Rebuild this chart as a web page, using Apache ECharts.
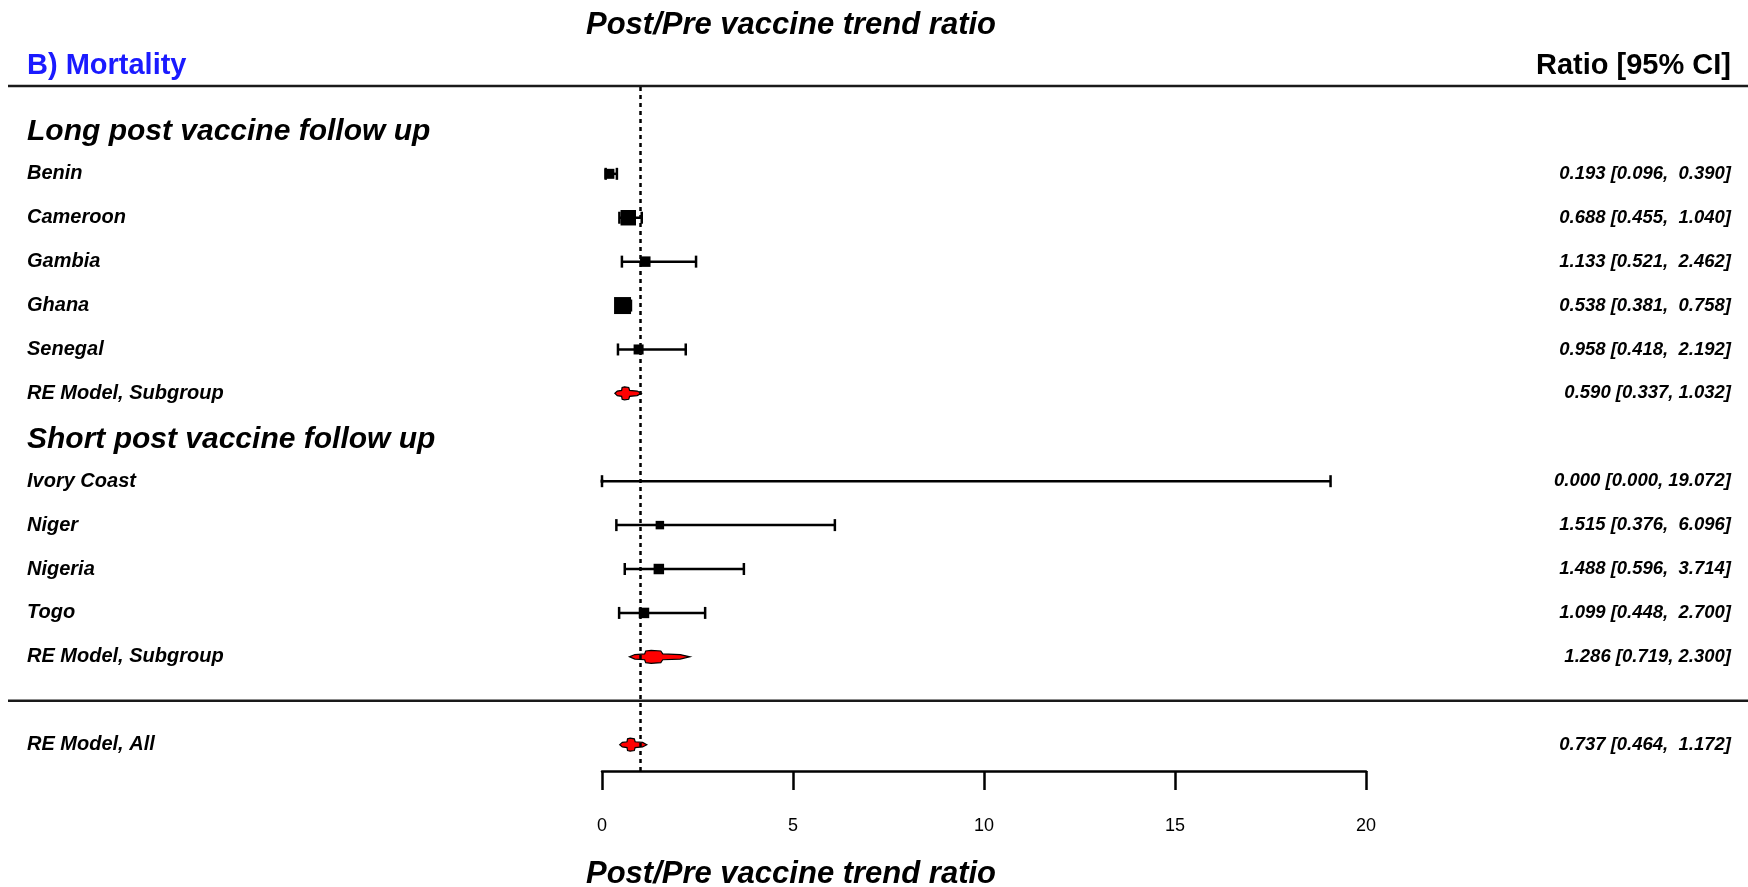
<!DOCTYPE html>
<html><head><meta charset="utf-8">
<script src="https://cdn.jsdelivr.net/npm/echarts@6/dist/echarts.min.js"></script>
<style>html,body{margin:0;padding:0;background:#fff}#c{width:1748px;height:887px}</style>
</head><body><div id="c"></div>
<script>
// ---- data ----
const studyNames = ['Benin','Cameroon','Gambia','Ghana','Senegal','Ivory Coast','Niger','Nigeria','Togo'];
const studyRows = [15,14,13,12,11,8,7,6,5];
const studyEst = [0.193,0.688,1.133,0.538,0.958,0.000,1.515,1.488,1.099];
const studyLo  = [0.096,0.455,0.521,0.381,0.418,0.000,0.376,0.596,0.448];
const studyHi  = [0.390,1.040,2.462,0.758,2.192,19.072,6.096,3.714,2.700];
const studyWeights = [9.2,22,10.1,26.5,9.2,0.8,6.6,10.1,10.1];

const modelNames = ['RE Model, Subgroup','RE Model, Subgroup','RE Model, All'];
const modelRows = [10,4,2];
const modelEst = [0.590,1.286,0.737];
const modelLo  = [0.337,0.719,0.464];
const modelHi  = [1.032,2.300,1.172];
const modelPadded = [false,false,true];

const groupHeaders = ['Long post vaccine follow up','Short post vaccine follow up'];
const groupRows = [16,9];
const separatorRows = [17,3];
const refValue = 1;

// ---- helpers ----
const FONT = '"Liberation Sans", Arial, Helvetica, sans-serif';
function ciText(e,l,h,pad){
  const hs = h.toFixed(3);
  return e.toFixed(3)+' ['+l.toFixed(3)+', '+(pad? hs.padStart(6,' '):hs)+']';
}
const textRows = [];
studyNames.forEach((n,i)=>textRows.push({row:studyRows[i], name:n, val:ciText(studyEst[i],studyLo[i],studyHi[i],true), header:false}));
modelNames.forEach((n,i)=>textRows.push({row:modelRows[i], name:n, val:ciText(modelEst[i],modelLo[i],modelHi[i],modelPadded[i]), header:false}));
groupHeaders.forEach((n,i)=>textRows.push({row:groupRows[i], name:n, val:'', header:true}));

// concave diamond profile: [fraction of half-width from centre, fraction of half-height]
const diamondProfile = [[0,1],[0.25,0.9],[0.3,0.45],[0.75,0.35],[1,0]];

const chart = echarts.init(document.getElementById('c'), null, {renderer:'canvas'});
const option = {
  animation:false,
  backgroundColor:'#fff',
  grid:{left:602, right:382, top:86, bottom:116, containLabel:false},
  xAxis:{type:'value', min:0, max:20, interval:5,
    axisLine:{show:true, onZero:false, lineStyle:{color:'#000', width:2.5}},
    axisTick:{show:true, length:19, lineStyle:{color:'#000', width:2.5}},
    axisLabel:{margin:46, fontSize:18, color:'#000', fontFamily:FONT},
    splitLine:{show:false}},
  yAxis:{type:'value', min:1.4, max:17, show:false},
  graphic:[
    {type:'text', x:791, y:25, style:{text:'Post/Pre vaccine trend ratio', font:'italic bold 31px '+FONT, fill:'#000', textAlign:'center', textVerticalAlign:'middle'}},
    {type:'text', x:27, y:66, style:{text:'B) Mortality', font:'bold 29px '+FONT, fill:'#1a1aff', textAlign:'left', textVerticalAlign:'middle'}},
    {type:'text', x:1731, y:66, style:{text:'Ratio [95% CI]', font:'bold 29px '+FONT, fill:'#000', textAlign:'right', textVerticalAlign:'middle'}},
    {type:'text', x:791, y:874, style:{text:'Post/Pre vaccine trend ratio', font:'italic bold 31px '+FONT, fill:'#000', textAlign:'center', textVerticalAlign:'middle'}}
  ],
  series:[
    { // separators + reference line
      type:'custom', silent:true, clip:false,
      data: separatorRows.map(r=>[0,r]),
      renderItem(params, api){
        const y = api.coord([0, api.value(1)])[1];
        return {type:'line', shape:{x1:8, y1:y, x2:api.getWidth(), y2:y}, style:{stroke:'#1a1a1a', lineWidth:2.5}};
      },
      markLine:{silent:true, symbol:'none', label:{show:false},
        lineStyle:{type:[4,4], color:'#000', width:2.5},
        data:[{xAxis:refValue}]}
    },
    { // studies
      type:'custom', silent:true, clip:false,
      data: studyNames.map((n,i)=>[studyEst[i], studyRows[i], studyLo[i], studyHi[i], studyWeights[i]]),
      encode:{x:[0,2,3], y:1},
      renderItem(params, api){
        const e=api.value(0), r=api.value(1), l=api.value(2), h=api.value(3), w=api.value(4);
        const pE=api.coord([e,r]), pL=api.coord([l,r]), pH=api.coord([h,r]);
        const s=3.3*Math.sqrt(w), cap=6;
        const st={stroke:'#000', lineWidth:2.5};
        return {type:'group', children:[
          {type:'line', shape:{x1:pL[0],y1:pL[1],x2:pH[0],y2:pH[1]}, style:st},
          {type:'line', shape:{x1:pL[0],y1:pL[1]-cap,x2:pL[0],y2:pL[1]+cap}, style:st},
          {type:'line', shape:{x1:pH[0],y1:pH[1]-cap,x2:pH[0],y2:pH[1]+cap}, style:st},
          {type:'rect', shape:{x:pE[0]-s/2, y:pE[1]-s/2, width:s, height:s}, style:{fill:'#000'}}
        ]};
      }
    },
    { // model diamonds
      type:'custom', silent:true, clip:false,
      data: modelNames.map((n,i)=>[modelEst[i], modelRows[i], modelLo[i], modelHi[i]]),
      encode:{x:[0,2,3], y:1},
      renderItem(params, api){
        const e=api.value(0), r=api.value(1), l=api.value(2), h=api.value(3);
        const pE=api.coord([e,r]), pL=api.coord([l,r]), pH=api.coord([h,r]);
        const hh=6.5, dl=pE[0]-pL[0], dh=pH[0]-pE[0], cy=pE[1];
        const pts=[];
        diamondProfile.forEach(([f,v])=>pts.push([pE[0]+f*dh, cy-v*hh]));          // top right
        diamondProfile.slice(0,-1).reverse().forEach(([f,v])=>pts.push([pE[0]+f*dh, cy+v*hh])); // bottom right
        diamondProfile.slice(1).forEach(([f,v])=>pts.push([pE[0]-f*dl, cy+v*hh]));  // bottom left
        diamondProfile.slice(1,-1).reverse().forEach(([f,v])=>pts.push([pE[0]-f*dl, cy-v*hh])); // top left
        return {type:'polygon', shape:{points:pts},
          style:{fill:'#ff0000', stroke:'#000', lineWidth:1.2}};
      }
    },
    { // text columns
      type:'custom', silent:true, clip:false,
      data: textRows.map(t=>[0,t.row]),
      renderItem(params, api){
        const t = textRows[params.dataIndex];
        const y = api.coord([0, api.value(1)])[1];
        const children = [
          {type:'text', x:27, y:t.header? y+2 : y, style:{text:t.name, font:'italic bold '+(t.header?'30px ':'20px ')+FONT, fill:'#000', textAlign:'left', textVerticalAlign:'middle'}}
        ];
        if (t.val) children.push({type:'text', x:1731, y:y, style:{text:t.val, font:'italic bold 18.5px '+FONT, fill:'#000', textAlign:'right', textVerticalAlign:'middle'}});
        return {type:'group', children};
      }
    }
  ]
};
chart.setOption(option);
</script>
</body></html>
